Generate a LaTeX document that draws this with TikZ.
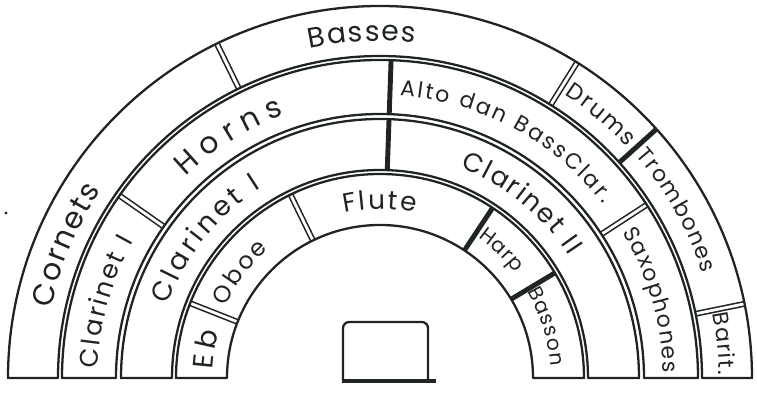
\documentclass[tikz,border=0pt]{standalone}
\usepackage{fontspec}
\newfontfamily\tulisan{Poppins}
\usetikzlibrary{decorations.text}
\definecolor{tinta}{RGB}{30,36,34}

\begin{document}
\begin{tikzpicture}[x=0.02cm, y=0.02cm,
    cincin/.style={draw=tinta, line width=1.3pt, line join=round},
    sekat/.style={draw=tinta, line width=0.9pt, double=white, double distance=1.6pt},
    sekattebal/.style={draw=tinta, line width=2.8pt},
    teksbusur/.style 2 args={decorate, decoration={text along path, text align={fit to path},
        text={|\tulisan\fontsize{#1}{#1}\selectfont\color{tinta}|#2}}}]
    % 画布范围
    \useasboundingbox (-380,-20) rectangle (377,378);

    % 分隔线
    \foreach \ri/\ro/\sudut in {322/372/116, 322/372/58, 322/372/11.5, 264/318/145,
        264/318/33, 153/204/158.5, 153/204/116}
        \draw[sekat] (\sudut:\ri) -- (\sudut:\ro);
    \foreach \ri/\ro/\sudut in {322/372/42, 264/318/88, 208/259/88, 153/204/56.5, 153/204/31}
        \draw[sekattebal] (\sudut:\ri) -- (\sudut:\ro);

    % 四个半圆环
    \foreach \ri/\ro in {153/204, 208/259, 264/318, 322/372}
        \draw[cincin] (0:\ro) arc[start angle=0, end angle=180, radius=\ro]
            -- (180:\ri) arc[start angle=180, end angle=0, radius=\ri] -- cycle;

    % 外圈
    \path[teksbusur={17}{Cornets}] (168:336) arc[start angle=168, end angle=146, radius=336];
    \path[teksbusur={16}{Basses}] (102:337) arc[start angle=102, end angle=84, radius=337];
    \path[teksbusur={13}{Drums}] (57:338) arc[start angle=57, end angle=43, radius=338];
    \path[teksbusur={12.5}{Trombones}] (41:339) arc[start angle=41, end angle=18, radius=339];
    \path[teksbusur={12.5}{Barit.}] (11:339) arc[start angle=11, end angle=0.5, radius=339];

    % 第三圈
    \path[teksbusur={14.5}{Clarinet I}] (178:282) arc[start angle=178, end angle=151, radius=282];
    \path[teksbusur={17}{Horns}] (134:280) arc[start angle=134, end angle=110, radius=280];
    \path[teksbusur={12.5}{Alto dan BassClar.}] (86:283) arc[start angle=86, end angle=38, radius=283];
    \path[teksbusur={12.5}{Saxophones}] (31:283) arc[start angle=31, end angle=1, radius=283];

    % 第二圈
    \path[teksbusur={15.5}{Clarinet I}] (161:224) arc[start angle=161, end angle=122, radius=224];
    \path[teksbusur={15}{Clarinet II}] (69:225) arc[start angle=69, end angle=33, radius=225];

    % 内圈
    \path[teksbusur={16}{Eb}] (177:168) arc[start angle=177, end angle=164, radius=168];
    \path[teksbusur={13.5}{Oboe}] (155:170) arc[start angle=155, end angle=131, radius=170];
    \path[teksbusur={15}{Flute}] (102:169) arc[start angle=102, end angle=78, radius=169];
    \path[teksbusur={11.5}{Harp}] (55:171) arc[start angle=55, end angle=38, radius=171];
    \path[teksbusur={11.5}{Basson}] (30.5:171) arc[start angle=30.5, end angle=4, radius=171];

    % 指挥台
    \draw[cincin, rounded corners=3.5pt] (-37,-2) -- (-37,56) -- (48,56) -- (48,-2);
    \draw[tinta, line width=2.4pt] (-38,-3) -- (56,-3);
    \fill[tinta] (-374,165) circle (1.6);
\end{tikzpicture}
\end{document}
